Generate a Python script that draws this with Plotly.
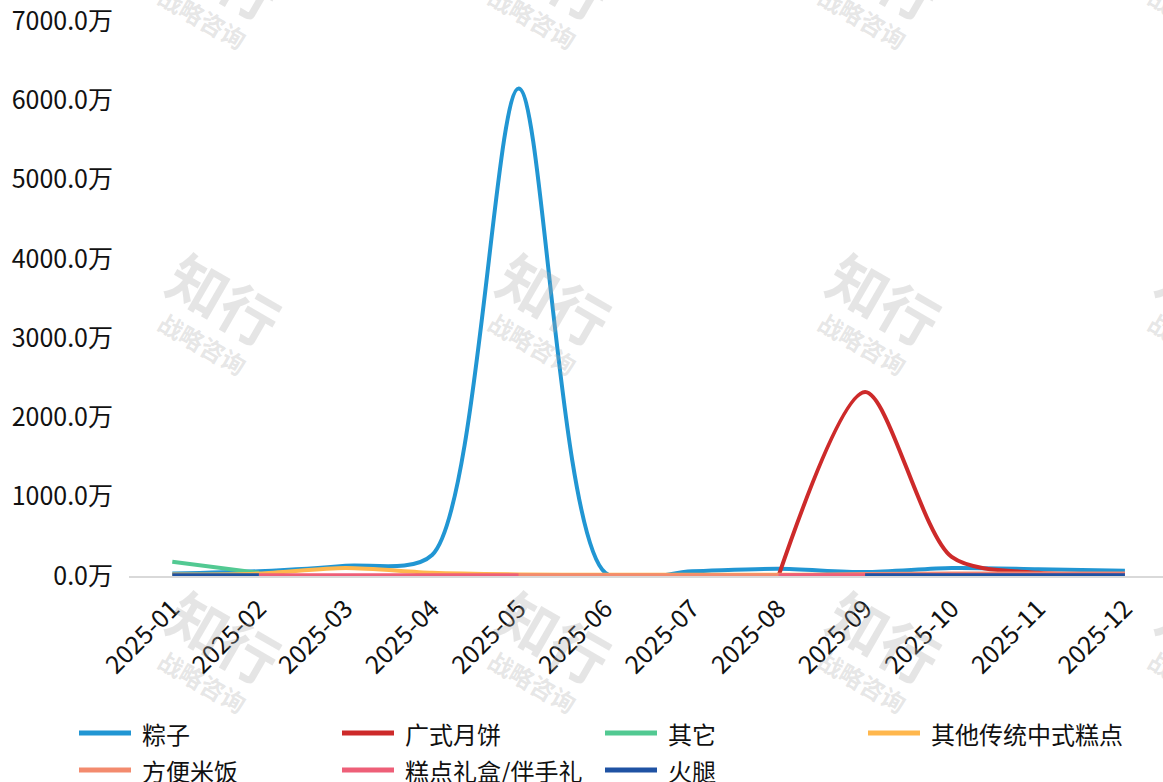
import plotly.graph_objects as go

months = ["2025-01", "2025-02", "2025-03", "2025-04", "2025-05", "2025-06",
          "2025-07", "2025-08", "2025-09", "2025-10", "2025-11", "2025-12"]

zongzi = [30, 60, 130, 265, 6150, 40, 60, 90, 50, 100, 85, 65]
yuebing = [None, None, None, None, None, None, None, 0, 2320, 240, 40, 20]
qita = [180, 40, None, None, None, None, None, None, None, None, None, None]
gaodian = [20, 30, 100, 40, 20, 15, 15, 15, 15, 15, 15, 15]
mifan = [None, None, None, None, 10, 10, 10, 10, 25, 30, 30, 30]
lihe = [None, 10, 10, 10, 10, None, None, 10, 10, 15, 15, 15]
huotui = [10, 10, None, None, None, None, None, None, 10, 10, 10, 10]

names = ["粽子", "广式月饼", "其它", "其他传统中式糕点", "方便米饭", "糕点礼盒/伴手礼", "火腿"]
series = [zongzi, yuebing, qita, gaodian, mifan, lihe, huotui]
colors = ["#2196D3", "#CD2A2A", "#52C992", "#FFB74D", "#F38B6E", "#EE5F78", "#1F52A3"]

FONT = "Noto Sans CJK SC"
W, H = 1163, 782
L, T, B = 129, 21, 206
PW = 1034
R = W - L - PW
PH = H - T - B


def px_x(p):
    return (p - L) / PW


def px_y(p):
    return (H - B - p) / PH


fig = go.Figure()
for n, s, c in zip(names, series, colors):
    fig.add_trace(go.Scatter(
        x=months, y=s, name=n, mode="lines",
        line=dict(color=c, width=4, shape="spline", smoothing=0.8),
        connectgaps=False, showlegend=False,
    ))

annotations = []
shapes = []

# watermarks
cols_px = [225, 555, 885, 1215]
rows_px = [-28, 298, 636]
for cy in rows_px:
    for cx in cols_px:
        annotations.append(dict(
            x=px_x(cx), y=px_y(cy), xref="paper", yref="paper",
            xanchor="center", yanchor="middle",
            text="<b>知行</b>", showarrow=False, textangle=30,
            font=dict(family=FONT, size=58, color="rgba(170,170,170,0.30)"),
        ))
        annotations.append(dict(
            x=px_x(cx - 22), y=px_y(cy + 45), xref="paper", yref="paper",
            xanchor="center", yanchor="middle",
            text="<b>战略咨询</b>", showarrow=False, textangle=30,
            font=dict(family=FONT, size=24, color="rgba(170,170,170,0.30)"),
        ))

# legend (drawn as keys + labels)
leg_cols = [77, 340, 603, 866]
leg_rows = [733, 770]
for i, (n, c) in enumerate(zip(names, colors)):
    lx = leg_cols[i % 4]
    ly = leg_rows[i // 4]
    shapes.append(dict(
        type="line", xref="paper", yref="paper",
        x0=px_x(lx + 2), x1=px_x(lx + 54), y0=px_y(ly), y1=px_y(ly),
        line=dict(color=c, width=5),
    ))
    annotations.append(dict(
        x=px_x(lx + 63), y=px_y(ly), xref="paper", yref="paper",
        xanchor="left", yanchor="middle", showarrow=False,
        text=n, font=dict(family=FONT, size=24, color="#111111"),
    ))

fig.update_layout(
    width=W, height=H,
    margin=dict(l=L, r=R, t=T, b=B, pad=0, autoexpand=False),
    paper_bgcolor="white", plot_bgcolor="white",
    font=dict(family=FONT, size=24, color="#111111"),
    showlegend=False,
    annotations=annotations,
    shapes=shapes,
    xaxis=dict(
        type="category", range=[-0.5, 11.44], automargin=False,
        showgrid=False, zeroline=False,
        showline=True, linecolor="#d9d9d9", linewidth=2,
        ticks="", tickangle=-45, ticklabelstandoff=6,
        tickfont=dict(family=FONT, size=25, color="#111111"),
    ),
    yaxis=dict(
        range=[0, 7000], dtick=1000, tick0=0, automargin=False,
        showgrid=False, zeroline=False, showline=False,
        tickformat=".1f", ticksuffix="万",
        ticklabelstandoff=15,
        tickfont=dict(family=FONT, size=25, color="#111111"),
    ),
)

fig.write_html("out.html", config={"displayModeBar": False},
               post_script="document.body.style.margin='0px';")
